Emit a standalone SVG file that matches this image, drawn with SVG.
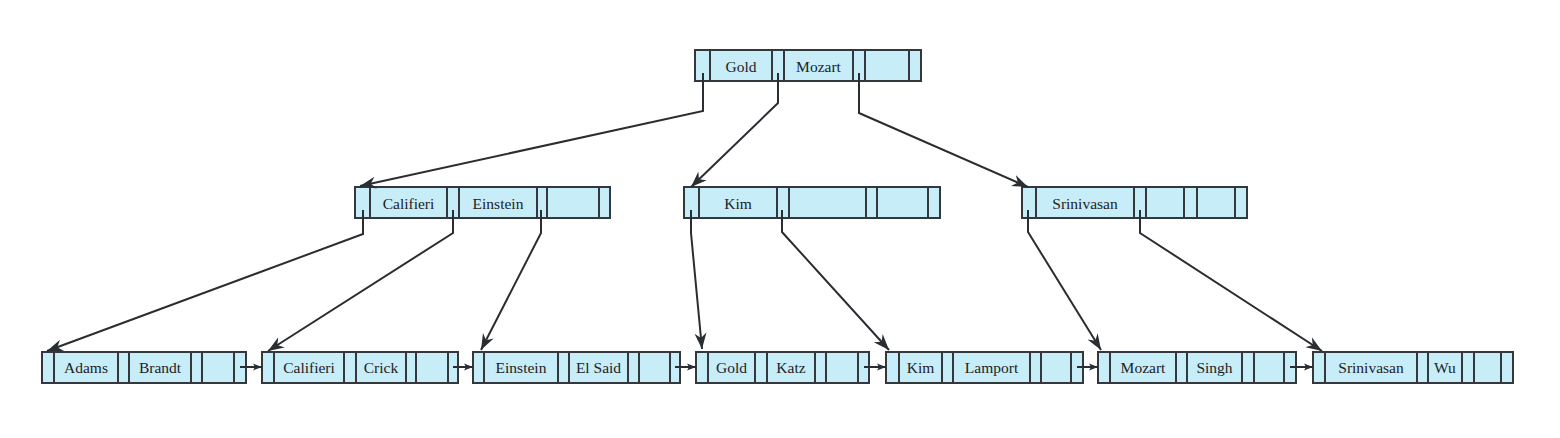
<svg xmlns="http://www.w3.org/2000/svg" width="1560" height="438" viewBox="0 0 1560 438">
<style>
.box{fill:#c7edf9;stroke:#33383d;stroke-width:2}
.div{stroke:#33383d;stroke-width:2}
.t{font-family:"Liberation Serif","Times New Roman",serif;font-size:15.5px;fill:#222;text-anchor:middle}
.c{fill:none;stroke:#2a2d31;stroke-width:2}
</style>
<defs>
<marker id="ah" markerUnits="userSpaceOnUse" markerWidth="18" markerHeight="13" refX="16" refY="6.5" orient="auto">
<path d="M0,0.5 L16,6.5 L0,12.5 L5,6.5 z" fill="#2a2d31"/>
</marker>
<marker id="sh" markerUnits="userSpaceOnUse" markerWidth="10" markerHeight="8" refX="9" refY="4" orient="auto">
<path d="M0,0.5 L9,4 L0,7.5 L2,4 z" fill="#2a2d31"/>
</marker>
</defs>
<rect width="1560" height="438" fill="#ffffff"/>

<g id="root">
<rect class="box" x="695" y="50" width="226" height="31"/>
<path class="div" d="M710,50V81M772,50V81M784,50V81M853,50V81M865,50V81M909,50V81"/>
<text class="t" x="741" y="71.5">Gold</text>
<text class="t" x="818.5" y="71.5">Mozart</text>
</g>

<g id="n-califieri">
<rect class="box" x="355" y="187" width="255" height="31"/>
<path class="div" d="M370,187V218M447,187V218M459,187V218M537,187V218M547,187V218M599,187V218"/>
<text class="t" x="408.5" y="208.5">Califieri</text>
<text class="t" x="498" y="208.5">Einstein</text>
</g>

<g id="n-kim">
<rect class="box" x="684" y="187" width="256" height="31"/>
<path class="div" d="M699,187V218M777,187V218M789,187V218M866,187V218M877,187V218M928,187V218"/>
<text class="t" x="738" y="208.5">Kim</text>
</g>

<g id="n-srinivasan">
<rect class="box" x="1022" y="187" width="225" height="31"/>
<path class="div" d="M1036,187V218M1134,187V218M1146,187V218M1184,187V218M1197,187V218M1235,187V218"/>
<text class="t" x="1085" y="208.5">Srinivasan</text>
</g>

<g id="leaf-adams">
<rect class="box" x="42" y="352" width="204" height="31"/>
<path class="div" d="M54,352V383M118,352V383M129,352V383M191,352V383M202,352V383M234,352V383"/>
<text class="t" x="86" y="372.5">Adams</text>
<text class="t" x="160" y="372.5">Brandt</text>
</g>

<g id="leaf-califieri">
<rect class="box" x="262" y="352" width="196" height="31"/>
<path class="div" d="M274,352V383M344,352V383M356,352V383M406,352V383M416,352V383M448,352V383"/>
<text class="t" x="309" y="372.5">Califieri</text>
<text class="t" x="381" y="372.5">Crick</text>
</g>

<g id="leaf-einstein">
<rect class="box" x="473" y="352" width="207" height="31"/>
<path class="div" d="M484,352V383M558,352V383M569,352V383M628,352V383M639,352V383M670,352V383"/>
<text class="t" x="521" y="372.5">Einstein</text>
<text class="t" x="598.5" y="372.5">El Said</text>
</g>

<g id="leaf-gold">
<rect class="box" x="696" y="352" width="173" height="31"/>
<path class="div" d="M708,352V383M755,352V383M767,352V383M815,352V383M826,352V383M858,352V383"/>
<text class="t" x="731.5" y="372.5">Gold</text>
<text class="t" x="791" y="372.5">Katz</text>
</g>

<g id="leaf-kim">
<rect class="box" x="886" y="352" width="197" height="31"/>
<path class="div" d="M899,352V383M942,352V383M953,352V383M1030,352V383M1041,352V383M1071,352V383"/>
<text class="t" x="920.5" y="372.5">Kim</text>
<text class="t" x="991.5" y="372.5">Lamport</text>
</g>

<g id="leaf-mozart">
<rect class="box" x="1098" y="352" width="198" height="31"/>
<path class="div" d="M1110,352V383M1176,352V383M1187,352V383M1242,352V383M1254,352V383M1284,352V383"/>
<text class="t" x="1143" y="372.5">Mozart</text>
<text class="t" x="1214.5" y="372.5">Singh</text>
</g>

<g id="leaf-srinivasan">
<rect class="box" x="1313" y="352" width="200" height="31"/>
<path class="div" d="M1325,352V383M1417,352V383M1428,352V383M1462,352V383M1474,352V383M1501,352V383"/>
<text class="t" x="1371" y="372.5">Srinivasan</text>
<text class="t" x="1445" y="372.5">Wu</text>
</g>

<g id="connectors">
<path class="c" d="M703,73V111L360,186" marker-end="url(#ah)"/>
<path class="c" d="M778,73V103L691,187" marker-end="url(#ah)"/>
<path class="c" d="M859,73V113L1028,187" marker-end="url(#ah)"/>
<path class="c" d="M363,210V234L47,351" marker-end="url(#ah)"/>
<path class="c" d="M453,210V233L268,351" marker-end="url(#ah)"/>
<path class="c" d="M541,210V233L481,350" marker-end="url(#ah)"/>
<path class="c" d="M691,210V233L702,349" marker-end="url(#ah)"/>
<path class="c" d="M782,210V232L889,350" marker-end="url(#ah)"/>
<path class="c" d="M1028,210V232L1101,350" marker-end="url(#ah)"/>
<path class="c" d="M1140,210V233L1322,351" marker-end="url(#ah)"/>
<path class="c" d="M240,367H262" marker-end="url(#sh)"/>
<path class="c" d="M453,367H473" marker-end="url(#sh)"/>
<path class="c" d="M675,367H696" marker-end="url(#sh)"/>
<path class="c" d="M864,367H886" marker-end="url(#sh)"/>
<path class="c" d="M1077,367H1098" marker-end="url(#sh)"/>
<path class="c" d="M1290,367H1313" marker-end="url(#sh)"/>
</g>
</svg>
